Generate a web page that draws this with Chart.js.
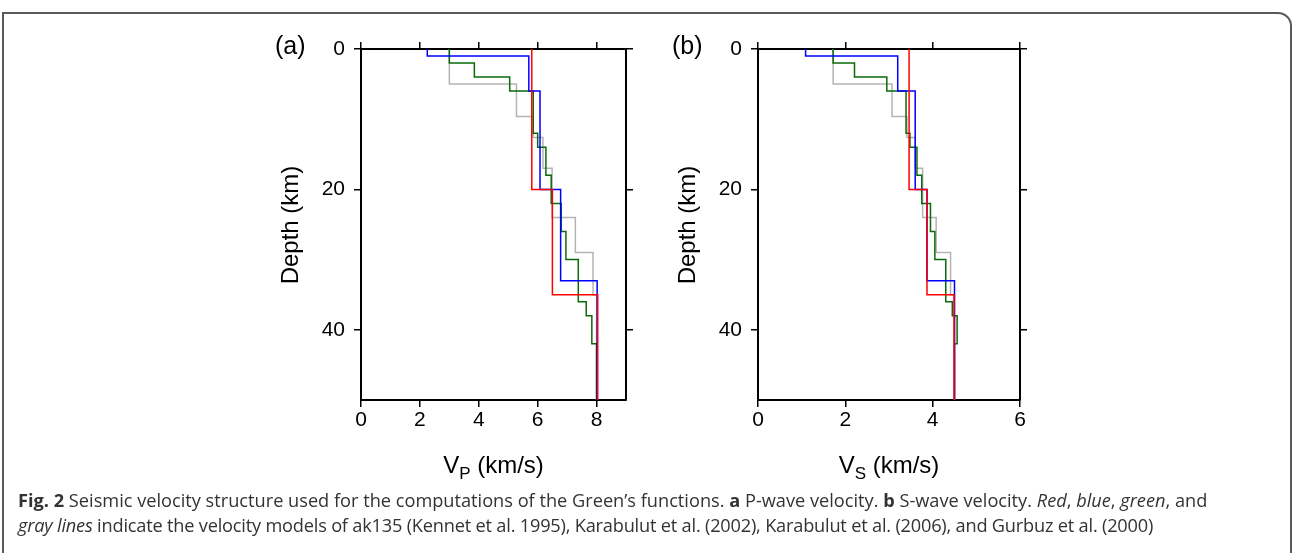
<!DOCTYPE html>
<html>
<head>
<meta charset="utf-8">
<script src="https://cdn.jsdelivr.net/npm/chart.js@4.4.1/dist/chart.umd.min.js"></script>
<style>
  body { margin: 0; background: #fff; width: 1292px; height: 553px; overflow: hidden; position: relative;
         font-family: "Liberation Sans", Arial, Helvetica, sans-serif; color: #000; }
  .frame { position: absolute; left: 2px; top: 12px; width: 1286px; height: 600px;
           border: 2px solid #5a5a5a; border-top-right-radius: 14px; }
  .box { position: absolute; }
  .panel-tag { position: absolute; font-size: 25px; }
  .ytitle { position: absolute; font-size: 24px; white-space: nowrap; transform: translate(-50%, -50%) rotate(-90deg); }
  .xtitle { position: absolute; font-size: 24px; text-align: center; white-space: nowrap; }
  .xtitle sub { font-size: 17px; vertical-align: -6px; line-height: 0; }
  .caption { position: absolute; left: 18px; top: 488px; width: 1272px; font-family: "Open Sans", sans-serif;
             font-size: 18.2px; line-height: 25px; color: #333; white-space: nowrap; }
  .caption .l2 { letter-spacing: -0.2px; }
</style>
</head>
<body>
<div class="frame"></div>

<div class="box" style="left:262px; top:0px;"><canvas id="vp" width="384" height="490"></canvas></div>
<div class="box" style="left:659px; top:0px;"><canvas id="vs" width="381" height="490"></canvas></div>

<div class="panel-tag" style="left:275px; top:31px;">(a)</div>
<div class="panel-tag" style="left:672px; top:31px;">(b)</div>
<div class="ytitle" style="left:290px; top:225px;">Depth (km)</div>
<div class="ytitle" style="left:687px; top:225px;">Depth (km)</div>
<div class="xtitle" style="left:361px; width:265px; top:451px;">V<sub>P</sub> (km/s)</div>
<div class="xtitle" style="left:758px; width:262px; top:451px;">V<sub>S</sub> (km/s)</div>

<div class="caption">
  <b>Fig. 2</b> Seismic velocity structure used for the computations of the Green’s functions. <b>a</b> P-wave velocity. <b>b</b> S-wave velocity. <i>Red</i>, <i>blue</i>, <i>green</i>, and<br>
  <span class="l2"><i>gray lines</i> indicate the velocity models of ak135 (Kennet et al. 1995), Karabulut et al. (2002), Karabulut et al. (2006), and Gurbuz et al. (2000)</span>
</div>

<script>
// Layered models: *_DEPTH are layer boundaries (km), velocity arrays hold one value per layer (km/s)
const AK135_DEPTH = [0, 20, 35, 50];
const AK135_VP = [5.8, 6.5, 8.04];
const AK135_VS = [3.46, 3.87, 4.49];

const KARA02_DEPTH = [0, 1, 6, 20, 33, 50];
const KARA02_VP = [2.25, 5.7, 6.08, 6.78, 8.02];
const KARA02_VS = [1.09, 3.2, 3.6, 3.87, 4.5];

const KARA06_DEPTH = [0, 2, 4, 6, 12, 14, 18, 22, 26, 30, 36, 38, 42, 50];
const KARA06_VP = [3.0, 3.85, 5.05, 5.85, 6.0, 6.28, 6.46, 6.8, 6.96, 7.38, 7.65, 7.84, 8.0];
const KARA06_VS = [1.72, 2.21, 2.95, 3.39, 3.48, 3.64, 3.75, 3.95, 4.05, 4.3, 4.45, 4.56, 4.5];

const GURBUZ_DEPTH = [0, 5, 9.6, 12.6, 17, 24, 29, 35, 50];
const GURBUZ_VP = [3.0, 5.28, 5.85, 6.18, 6.49, 7.28, 7.88, 8.0];
const GURBUZ_VS = [1.72, 3.07, 3.41, 3.6, 3.77, 4.08, 4.41, 4.5];

const DEPTH_TICKS = [0, 20, 40];
const VP_TICKS = [0, 2, 4, 6, 8];
const VS_TICKS = [0, 2, 4, 6];

const MODEL_COLORS = ['#ff0000', '#0000ff', '#0a6a0a', '#b4b4b4'];
const FONT = { family: 'Liberation Sans, Arial, sans-serif', size: 21 };

// turn layer table into a staircase of (velocity, depth) points
function layerSteps(depths, vels) {
  const pts = [];
  vels.forEach((v, i) => {
    pts.push({ x: v, y: depths[i] });
    pts.push({ x: v, y: depths[i + 1] });
  });
  return pts;
}

function fixTicks(list) {
  return s => { s.ticks = list.map(v => ({ value: v })); };
}

function axis(position, min, max, tickList, size, showLabels, reverse) {
  const horizontal = position === 'top' || position === 'bottom';
  return {
    type: 'linear',
    position: position,
    min: min,
    max: max,
    reverse: !!reverse,
    afterBuildTicks: fixTicks(tickList),
    afterFit: s => { if (horizontal) s.height = size; else s.width = size; },
    border: { display: true, color: '#000', width: 2 },
    grid: { drawOnChartArea: false, drawTicks: true, tickLength: 7, color: '#000', lineWidth: 1.5 },
    ticks: { display: showLabels, color: '#000', font: FONT, padding: horizontal ? 1 : 9 }
  };
}

function createProfile(canvasEl, models, vMax, vTicks, rightSize) {
  return new Chart(canvasEl, {
    type: 'scatter',
    data: {
      datasets: models.map((m, i) => ({
        data: layerSteps(m.depths, m.vels),
        showLine: true,
        borderColor: MODEL_COLORS[i],
        borderWidth: 1.5,
        pointRadius: 0,
        tension: 0
      }))
    },
    options: {
      responsive: false,
      animation: false,
      devicePixelRatio: 1,
      layout: { padding: 0 },
      plugins: { legend: { display: false }, tooltip: { enabled: false } },
      scales: {
        x: axis('bottom', 0, vMax, vTicks, 90, true),
        x2: axis('top', 0, vMax, vTicks, 49, false),
        y: axis('left', 0, 50, DEPTH_TICKS, 99, true, true),
        y2: axis('right', 0, 50, DEPTH_TICKS, rightSize, false, true)
      }
    }
  });
}

createProfile(document.getElementById('vp'), [
  { depths: AK135_DEPTH, vels: AK135_VP },
  { depths: KARA02_DEPTH, vels: KARA02_VP },
  { depths: KARA06_DEPTH, vels: KARA06_VP },
  { depths: GURBUZ_DEPTH, vels: GURBUZ_VP }
], 9, VP_TICKS, 20);

createProfile(document.getElementById('vs'), [
  { depths: AK135_DEPTH, vels: AK135_VS },
  { depths: KARA02_DEPTH, vels: KARA02_VS },
  { depths: KARA06_DEPTH, vels: KARA06_VS },
  { depths: GURBUZ_DEPTH, vels: GURBUZ_VS }
], 6, VS_TICKS, 20);
</script>
</body>
</html>
